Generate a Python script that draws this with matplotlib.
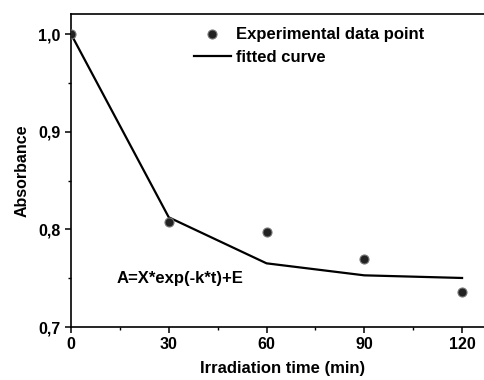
import matplotlib
matplotlib.use("Agg")
import matplotlib.pyplot as plt
from matplotlib.ticker import FuncFormatter, MultipleLocator

plt.rcParams['font.family'] = ['Liberation Sans', 'DejaVu Sans']
plt.rcParams['font.weight'] = 'bold'

time_min = [0, 30, 60, 90, 120]
absorbance_exp = [1.0, 0.8075, 0.797, 0.7693, 0.7362]
absorbance_fit = [1.0, 0.8123, 0.7652, 0.7529, 0.7502]
x_ticks = [0, 30, 60, 90, 120]
y_ticks = [0.7, 0.8, 0.9, 1.0]

fig = plt.figure(figsize=(4.84, 3.8), dpi=100)
ax = fig.add_axes([71/484, 1-327/380, (494-71)/484, (327-14)/380])

ax.plot(time_min, absorbance_fit, color='black', lw=1.6, label='fitted curve', zorder=2)
ax.plot(time_min, absorbance_exp, linestyle='none', marker='o', ms=6.5,
        markerfacecolor='#222222', markeredgecolor='#777777', markeredgewidth=0.8,
        label='Experimental data point', zorder=3)

ax.set_xlim(0, 129.8)
ax.set_ylim(0.7, 1.0205)
ax.set_xticks(x_ticks)
ax.set_yticks(y_ticks)
ax.xaxis.set_minor_locator(MultipleLocator(15))
ax.yaxis.set_minor_locator(MultipleLocator(0.05))
ax.yaxis.set_major_formatter(FuncFormatter(lambda v, p: f"{v:.1f}".replace('.', ',')))

for s in ['left', 'bottom', 'top', 'right']:
    ax.spines[s].set_linewidth(1.2)
ax.tick_params(which='major', direction='out', length=4, width=1.1, labelsize=11.5)
ax.tick_params(which='minor', direction='out', length=2.5, width=1.0)
for lab in ax.get_xticklabels() + ax.get_yticklabels():
    lab.set_fontweight('bold')

ax.set_xlabel('Irradiation time (min)', fontsize=12, fontweight='bold', labelpad=6)
ax.set_ylabel('Absorbance', fontsize=11.5, fontweight='bold', labelpad=6)

h, l = ax.get_legend_handles_labels()
ax.legend(h[::-1], l[::-1], loc='upper left', bbox_to_anchor=((179-71)/423, 1.005),
          frameon=False, handlelength=2.2, handletextpad=0.3,
          labelspacing=0.45, prop={'weight': 'bold', 'size': 12})

ax.text(14.1, 0.750, 'A=X*exp(-k*t)+E', fontsize=12, fontweight='bold', ha='left', va='center')

fig.savefig('out.png', dpi=100)
